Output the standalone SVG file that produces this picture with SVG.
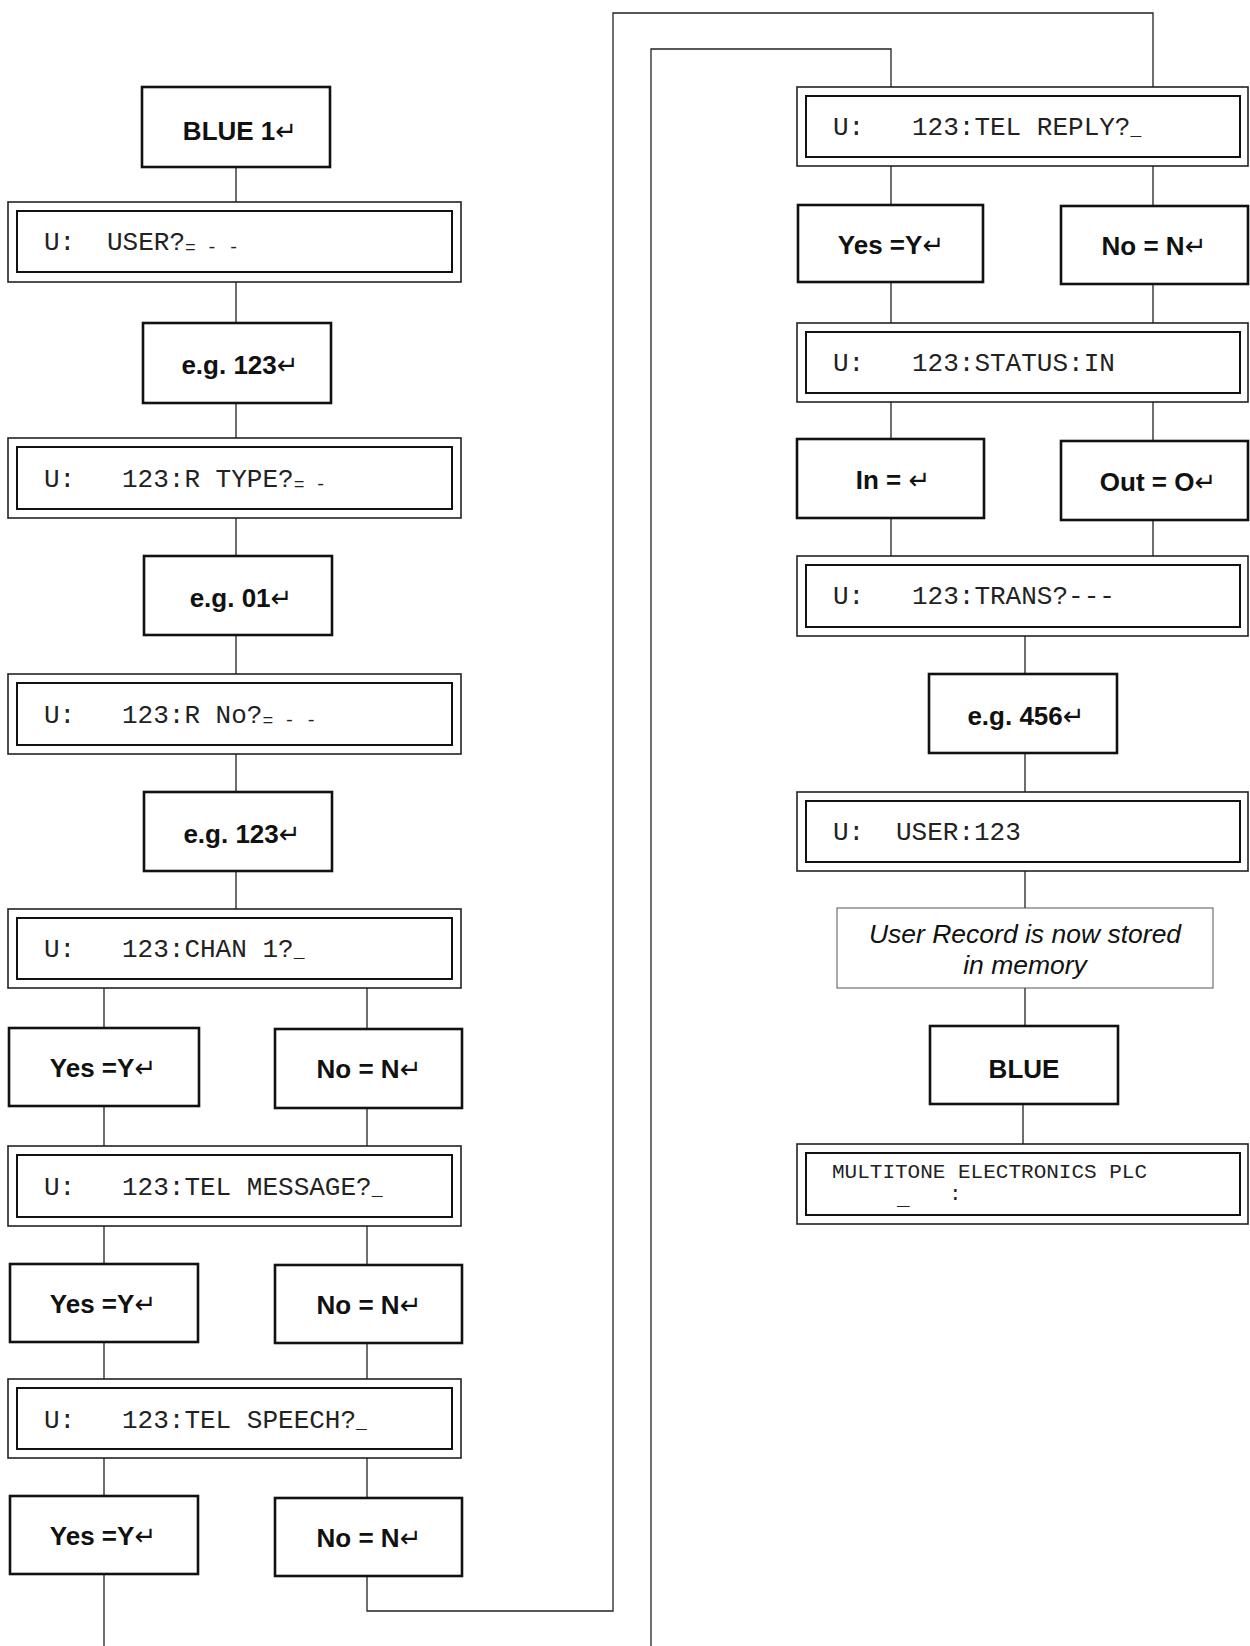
<svg xmlns="http://www.w3.org/2000/svg" width="1250" height="1646" viewBox="0 0 1250 1646">
  <style>
    .key { fill: #fff; stroke: #111; stroke-width: 2.6; }
    .disp-o { fill: #fff; stroke: #222; stroke-width: 1.6; }
    .disp-i { fill: none; stroke: #111; stroke-width: 2; }
    .note { fill: #fff; stroke: #555; stroke-width: 1; }
    .conn { fill: none; stroke: #222; stroke-width: 1.3; }
    .lbl { font-family: "Liberation Sans", Arial, sans-serif; font-weight: bold; font-size: 26px; text-anchor: middle; fill: #111; }
    .ret { font-family: "DejaVu Sans", sans-serif; font-weight: normal; font-size: 26px; }
    .mono { font-family: "Liberation Mono", "Courier New", monospace; font-size: 26px; fill: #222; }
    .cur { font-size: 18px; }
    .small { font-family: "Liberation Mono", "Courier New", monospace; font-size: 21px; fill: #222; }
    .it { font-family: "Liberation Sans", Arial, sans-serif; font-style: italic; font-size: 26.5px; text-anchor: middle; fill: #111; }
  </style>

  <!-- connectors -->
  <g id="connectors">
    <!-- left column trunk -->
    <path class="conn" d="M236 167V202 M236 282V323 M236 403V438 M236 518V556 M236 635V674 M236 754V792 M236 871V909"/>
    <!-- left column yes/no branches -->
    <path class="conn" d="M104 988V1028 M104 1106V1146 M104 1226V1264 M104 1342V1379 M104 1458V1496 M104 1574V1646"/>
    <path class="conn" d="M367 988V1029 M367 1108V1146 M367 1226V1265 M367 1343V1379 M367 1458V1498"/>
    <!-- carry-over routes to the right column -->
    <path class="conn" d="M367 1576V1611H613V13H1153V87"/>
    <path class="conn" d="M651 1646V49H891V87"/>
    <!-- right column branches -->
    <path class="conn" d="M891 166V205 M891 282V323 M891 402V439 M891 518V556"/>
    <path class="conn" d="M1153 166V206 M1153 284V323 M1153 402V441 M1153 520V556"/>
    <!-- right column trunk -->
    <path class="conn" d="M1025 636V674 M1025 753V792 M1025 871V908 M1025 988V1026 M1023 1104V1144"/>
  </g>

  <!-- left column -->
  <g id="blue1">
    <rect class="key" x="142" y="87" width="188" height="80"/>
    <text class="lbl" x="240" y="140">BLUE 1<tspan class="ret">↵</tspan></text>
  </g>
  <g id="d-user">
    <rect class="disp-o" x="8" y="202" width="453" height="80"/>
    <rect class="disp-i" x="17" y="211" width="435" height="61"/>
    <text class="mono" x="44" y="250">U:</text>
    <text class="mono" x="107" y="250">USER?<tspan class="cur" dy="3">= - -</tspan></text>
  </g>
  <g id="eg123a">
    <rect class="key" x="143" y="323" width="188" height="80"/>
    <text class="lbl" x="240" y="374">e.g. 123<tspan class="ret">↵</tspan></text>
  </g>
  <g id="d-rtype">
    <rect class="disp-o" x="8" y="438" width="453" height="80"/>
    <rect class="disp-i" x="17" y="447" width="435" height="62"/>
    <text class="mono" x="44" y="487">U:</text>
    <text class="mono" x="122" y="487">123:R TYPE?<tspan class="cur" dy="3">= -</tspan></text>
  </g>
  <g id="eg01">
    <rect class="key" x="144" y="556" width="188" height="79"/>
    <text class="lbl" x="241" y="607">e.g. 01<tspan class="ret">↵</tspan></text>
  </g>
  <g id="d-rno">
    <rect class="disp-o" x="8" y="674" width="453" height="80"/>
    <rect class="disp-i" x="17" y="683" width="435" height="62"/>
    <text class="mono" x="44" y="723">U:</text>
    <text class="mono" x="122" y="723">123:R No?<tspan class="cur" dy="3">= - -</tspan></text>
  </g>
  <g id="eg123b">
    <rect class="key" x="144" y="792" width="188" height="79"/>
    <text class="lbl" x="242" y="843">e.g. 123<tspan class="ret">↵</tspan></text>
  </g>
  <g id="d-chan">
    <rect class="disp-o" x="8" y="909" width="453" height="79"/>
    <rect class="disp-i" x="17" y="918" width="435" height="61"/>
    <text class="mono" x="44" y="957">U:</text>
    <text class="mono" x="122" y="957">123:CHAN 1?<tspan class="cur">_</tspan></text>
  </g>
  <g id="yes1">
    <rect class="key" x="9" y="1028" width="190" height="78"/>
    <text class="lbl" x="103" y="1077">Yes =Y<tspan class="ret">↵</tspan></text>
  </g>
  <g id="no1">
    <rect class="key" x="275" y="1029" width="187" height="79"/>
    <text class="lbl" x="369" y="1078">No = N<tspan class="ret">↵</tspan></text>
  </g>
  <g id="d-telmsg">
    <rect class="disp-o" x="8" y="1146" width="453" height="80"/>
    <rect class="disp-i" x="17" y="1155" width="435" height="62"/>
    <text class="mono" x="44" y="1195">U:</text>
    <text class="mono" x="122" y="1195">123:TEL MESSAGE?<tspan class="cur">_</tspan></text>
  </g>
  <g id="yes2">
    <rect class="key" x="10" y="1264" width="188" height="78"/>
    <text class="lbl" x="103" y="1313">Yes =Y<tspan class="ret">↵</tspan></text>
  </g>
  <g id="no2">
    <rect class="key" x="275" y="1265" width="187" height="78"/>
    <text class="lbl" x="369" y="1314">No = N<tspan class="ret">↵</tspan></text>
  </g>
  <g id="d-telspeech">
    <rect class="disp-o" x="8" y="1379" width="453" height="79"/>
    <rect class="disp-i" x="17" y="1388" width="435" height="61"/>
    <text class="mono" x="44" y="1428">U:</text>
    <text class="mono" x="122" y="1428">123:TEL SPEECH?<tspan class="cur">_</tspan></text>
  </g>
  <g id="yes3">
    <rect class="key" x="10" y="1496" width="188" height="78"/>
    <text class="lbl" x="103" y="1545">Yes =Y<tspan class="ret">↵</tspan></text>
  </g>
  <g id="no3">
    <rect class="key" x="275" y="1498" width="187" height="78"/>
    <text class="lbl" x="369" y="1547">No = N<tspan class="ret">↵</tspan></text>
  </g>

  <!-- right column -->
  <g id="d-telreply">
    <rect class="disp-o" x="797" y="87" width="451" height="79"/>
    <rect class="disp-i" x="806" y="96" width="434" height="61"/>
    <text class="mono" x="833" y="135">U:</text>
    <text class="mono" x="912" y="135">123:TEL REPLY?<tspan class="cur">_</tspan></text>
  </g>
  <g id="yes4">
    <rect class="key" x="798" y="205" width="185" height="77"/>
    <text class="lbl" x="891" y="254">Yes =Y<tspan class="ret">↵</tspan></text>
  </g>
  <g id="no4">
    <rect class="key" x="1061" y="206" width="187" height="78"/>
    <text class="lbl" x="1154" y="255">No = N<tspan class="ret">↵</tspan></text>
  </g>
  <g id="d-status">
    <rect class="disp-o" x="797" y="323" width="451" height="79"/>
    <rect class="disp-i" x="806" y="332" width="434" height="61"/>
    <text class="mono" x="833" y="371">U:</text>
    <text class="mono" x="912" y="371">123:STATUS:IN</text>
  </g>
  <g id="in">
    <rect class="key" x="797" y="439" width="187" height="79"/>
    <text class="lbl" x="893" y="489">In = <tspan class="ret">↵</tspan></text>
  </g>
  <g id="out">
    <rect class="key" x="1061" y="441" width="187" height="79"/>
    <text class="lbl" x="1158" y="491">Out = O<tspan class="ret">↵</tspan></text>
  </g>
  <g id="d-trans">
    <rect class="disp-o" x="797" y="556" width="451" height="80"/>
    <rect class="disp-i" x="806" y="565" width="434" height="62"/>
    <text class="mono" x="833" y="604">U:</text>
    <text class="mono" x="912" y="604">123:TRANS?---</text>
  </g>
  <g id="eg456">
    <rect class="key" x="929" y="674" width="188" height="79"/>
    <text class="lbl" x="1026" y="725">e.g. 456<tspan class="ret">↵</tspan></text>
  </g>
  <g id="d-user123">
    <rect class="disp-o" x="797" y="792" width="451" height="79"/>
    <rect class="disp-i" x="806" y="801" width="434" height="61"/>
    <text class="mono" x="833" y="840">U:</text>
    <text class="mono" x="896" y="840">USER:123</text>
  </g>
  <g id="stored">
    <rect class="note" x="837" y="908" width="376" height="80"/>
    <text class="it" x="1025" y="943">User Record is now stored</text>
    <text class="it" x="1025" y="974">in memory</text>
  </g>
  <g id="blue">
    <rect class="key" x="930" y="1026" width="188" height="78"/>
    <text class="lbl" x="1024" y="1078">BLUE</text>
  </g>
  <g id="d-idle">
    <rect class="disp-o" x="797" y="1144" width="451" height="80"/>
    <rect class="disp-i" x="806" y="1153" width="434" height="62"/>
    <text class="small" x="832" y="1178">MULTITONE ELECTRONICS PLC</text>
    <text class="small" x="897" y="1205">_</text>
    <text class="small" x="949" y="1200">:</text>
  </g>
</svg>
